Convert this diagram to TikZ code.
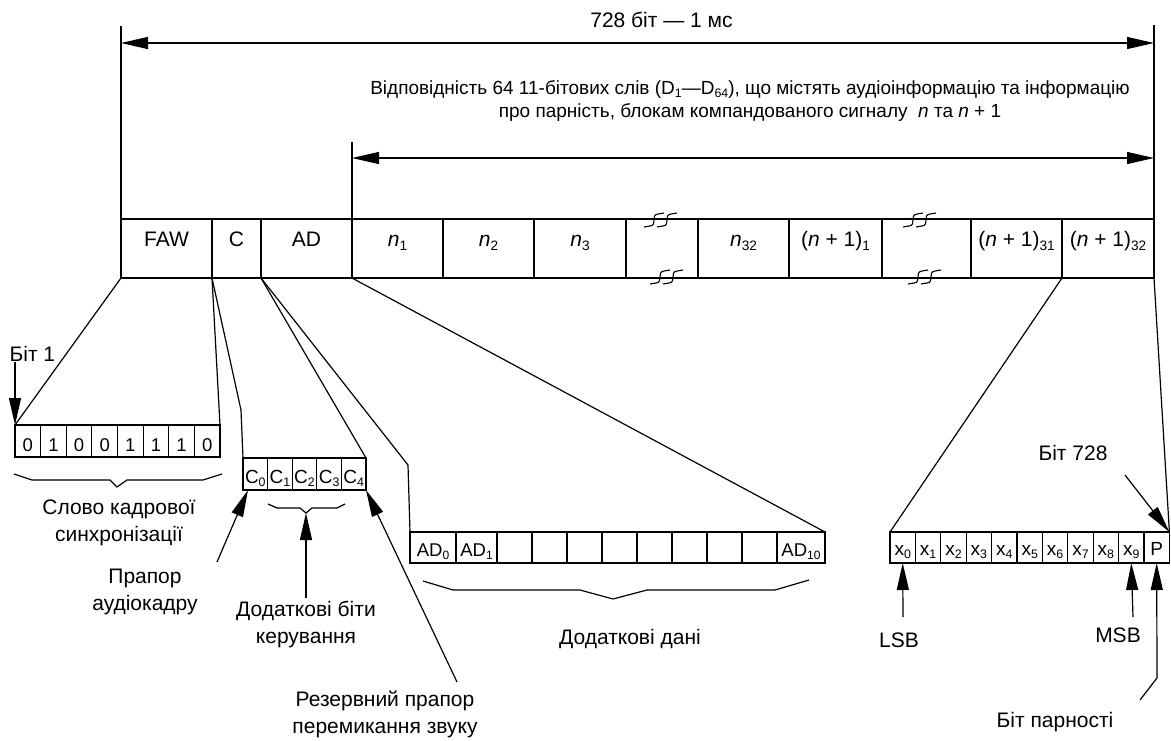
\documentclass[tikz,border=0pt]{standalone}
\usepackage{graphicx}
\usepackage{fontspec}
\setmainfont{Liberation Sans}
\usetikzlibrary{arrows.meta,positioning}

\newcommand{\lowsub}[1]{\raisebox{-0.3ex}{\scalebox{0.65}{#1}}}

\tikzset{
  framecell/.style={draw,inner sep=0pt,outer sep=0pt,minimum height=59pt,
    font=\fontsize{21}{25}\selectfont,text height=15pt,text depth=18.6pt},
  bitbox/.style={draw,inner sep=0pt,outer sep=0pt,minimum width=25.625pt,minimum height=32pt,
    font=\fontsize{18.5}{22}\selectfont,text height=21.4pt,text depth=0pt},
  cbox/.style={draw,inner sep=0pt,outer sep=0pt,minimum width=24.6pt,minimum height=32pt,
    font=\fontsize{19}{22}\selectfont,text height=18.6pt,text depth=0pt},
  adbox/.style={draw,inner sep=0pt,outer sep=0pt,minimum height=31pt,
    font=\fontsize{18.5}{22}\selectfont,text height=18.4pt,text depth=0pt},
  xbox/.style={draw,inner sep=0pt,outer sep=0pt,minimum width=25.4pt,minimum height=31pt,
    font=\fontsize{19}{22}\selectfont,text height=15pt,text depth=0pt},
  lbl/.style={align=center,inner sep=0pt,font=\fontsize{21}{27}\selectfont},
  para/.style={align=center,inner sep=0pt,font=\fontsize{19}{23}\selectfont},
  brkmark/.pic={
    \draw[line width=1.1pt] (-17,7) -- (-11,6) .. controls (-3,5) and (-11,-5) .. (-3,-6) -- (3,-7);
    \draw[line width=1.1pt] (-4,7) -- (2,6) .. controls (10,5) and (2,-5) .. (10,-6) -- (16,-7);
  }
}

\begin{document}
\begin{tikzpicture}[x=1pt,y=-1pt,line width=1.2pt,>={Triangle[length=27pt,width=12pt]}]
    \useasboundingbox (0,0) rectangle (1171,740);
    % frame of 728 bits
    \node[framecell,minimum width=91pt] (faw) at (166.5,248.5) {FAW};
    \node[framecell,minimum width=49pt] (ctl) at (236.5,248.5) {C};
    \node[framecell,minimum width=91pt] (aux) at (306.5,248.5) {AD};
    \node[framecell,minimum width=91pt] (n1) at (397.5,248.5) {\textit{n}\lowsub{1}};
    \node[framecell,minimum width=91pt] (n2) at (488.5,248.5) {\textit{n}\lowsub{2}};
    \node[framecell,minimum width=92pt] (n3) at (580,248.5) {\textit{n}\lowsub{3}};
    \node[framecell,minimum width=72pt] (brk1) at (662,248.5) {};
    \node[framecell,minimum width=91pt] (n32) at (743.5,248.5) {\textit{n}\lowsub{32}};
    \node[framecell,minimum width=93pt] (m1) at (835.5,248.5) {(\textit{n} + 1)\lowsub{1}};
    \node[framecell,minimum width=89pt] (brk2) at (926.5,248.5) {};
    \node[framecell,minimum width=91pt] (m31) at (1016.5,248.5) {(\textit{n} + 1)\lowsub{31}};
    \node[framecell,minimum width=92pt] (m32) at (1108,248.5) {(\textit{n} + 1)\lowsub{32}};
    \pic at (661,220) {brkmark};
    \pic at (667,277) {brkmark};
    \pic at (920,220) {brkmark};
    \pic at (925,277) {brkmark};

    % dimension arrows
    \coordinate (topL) at (121,26);
    \coordinate (topR) at (1154,25);
    \coordinate (dimL) at (121,43);
    \coordinate (dimR) at (1154,43);
    \draw (faw.north west) -- (topL);
    \draw (m32.north east) -- (topR);
    \draw[<->] (dimL) -- (dimR);
    \node[lbl] (total) at (661.5,20) {728 біт — 1 мс};
    \coordinate (subT) at (352,142);
    \coordinate (subL) at (352,158);
    \coordinate (subR) at (1154,158);
    \draw (n1.north west) -- (subT);
    \draw[<->] (subL) -- (subR);
    \node[para] (desc) at (750,100.5) {Відповідність 64 11-бітових слів (D\lowsub{1}—D\lowsub{64}), що містять аудіоінформацію та інформацію\\про парність, блокам компандованого сигналу~ \textit{n} та \textit{n} + 1};

    % frame alignment word
    \foreach \v [count=\i] in {0,1,0,0,1,1,1,0}
        \node[bitbox] (b\i) at ({15+25.625*(\i-0.5)},441) {\v};
    \draw (faw.south west) -- (b1.north west);
    \draw (faw.south east) -- (b8.north east);
    \draw (14,474) -- (32,480) -- (110,480) -- (117,487) -- (127,480) -- (203,480) -- (222,474);
    \node[lbl] (sync) at (119,523) {Слово кадрової\\синхронізації};
    \node[lbl,anchor=west] (bit1) at (9,354) {Біт 1};
    \draw[->] (bit1.south -| b1.north west) -- (b1.north west);

    % control bits
    \foreach \i in {0,...,4}
        \node[cbox] (c\i) at ({243+24.6*(\i+0.5)},474) {C\lowsub{\i}};
    \coordinate (cbend) at (241,410);
    \draw (ctl.south west) -- (cbend) -- (c0.north west);
    \draw (ctl.south east) -- (c4.north east);
    \draw (268,504) -- (277,508) -- (300,508) -- (306,513) -- (312,508) -- (337,508) -- (345,504);
    \coordinate (ctip) at (306,513);
    \node[lbl] (flag) at (145,592) {Прапор\\аудіокадру};
    \coordinate (flagT) at (217,562);
    \draw[->] (flagT) -- ([xshift=5pt]c0.south west);
    \node[lbl] (extra) at (306,624.5) {Додаткові біти\\керування};
    \coordinate (extraT) at (306,598);
    \draw[->] (extraT) -- (ctip);
    \node[lbl] (spare) at (385,714.5) {Резервний прапор\\перемикання звуку};
    \coordinate (spareT) at (457,682);
    \draw[->] (spareT) -- (c4.south east);

    % additional data
    \node[adbox,minimum width=46pt] (a0) at (433,547.5) {AD\lowsub{0}};
    \node[adbox,minimum width=41pt] (a1) at (476.5,547.5) {AD\lowsub{1}};
    \foreach \i in {2,...,9}
        \node[adbox,minimum width=35pt] (a\i) at ({497+35*(\i-2)+17.5},547.5) {};
    \node[adbox,minimum width=48pt] (a10) at (801,547.5) {AD\lowsub{10}};
    \coordinate (abend) at (408,465);
    \draw (aux.south west) -- (abend) -- (a0.north west);
    \draw (aux.south east) -- (a10.north east);
    \draw (423,581) -- (453,590) -- (580,590) -- (613,599) -- (647,590) -- (775,590) -- (809,580);
    \node[lbl] (adata) at (630,639) {Додаткові дані};

    % audio word
    \foreach \i in {0,...,9}
        \node[xbox] (x\i) at ({890+25.4*(\i+0.5)},547.5) {x\lowsub{\i}};
    \node[xbox] (p) at ({890+25.4*10.5},547.5) {P};
    \draw (m31.south east) -- (x0.north west);
    \draw (m32.south east) -- (p.north east);
    \node[lbl] (bit728) at (1073,453) {Біт 728};
    \coordinate (t728) at (1125,475);
    \draw[->] (t728) -- (p.north east);
    \node[lbl] (lsb) at (899,640) {LSB};
    \coordinate (lsbT) at (903,617);
    \draw[->] (lsbT) -- (x0.south);
    \node[lbl] (msb) at (1118,635) {MSB};
    \coordinate (msbT) at (1133,617);
    \draw[->] (msbT) -- (x9.south);
    \node[lbl] (parity) at (1055,722) {Біт парності};
    \coordinate (parL) at (1140,700);
    \coordinate (parB) at (1157,678);
    \draw[->] (parL) -- (parB) -- (p.south);
\end{tikzpicture}
\end{document}
